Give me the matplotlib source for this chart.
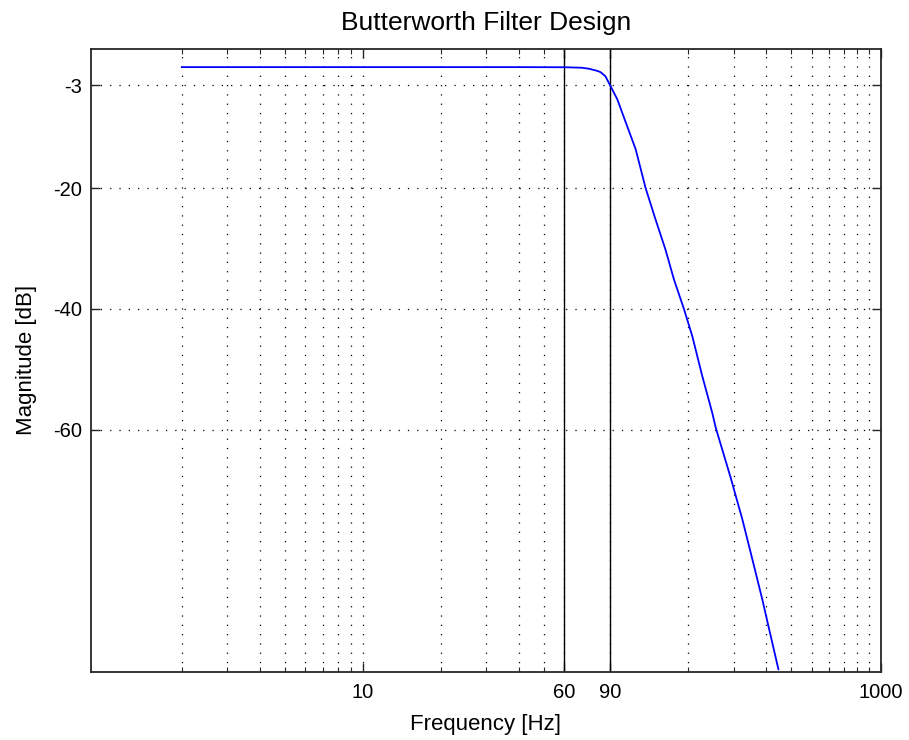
import matplotlib
matplotlib.use("Agg")
import matplotlib.pyplot as plt
from matplotlib.ticker import FixedLocator, NullFormatter

# Magnitude response of the low-pass design (frequency in Hz, magnitude in dB)
freq_hz = [2, 10, 40, 60, 70, 74.5, 80, 82.7, 86.3, 90, 95.9, 104.8, 113,
           123.4, 134.8, 147.3, 158.7, 173.5, 186.9, 204.2, 223.2, 230,
           262.8, 291.6, 318.7, 348.4, 375.2, 401.8]
mag_db = [0.0, 0.0, 0.0, -0.02, -0.1, -0.26, -0.6, -0.83, -1.5, -3.0, -5.3,
          -9.8, -13.6, -20.0, -25.2, -30.2, -35.1, -40.0, -44.5, -51.1, -57.2,
          -59.6, -67.9, -74.8, -81.4, -88.1, -94.1, -99.6]

# Passband edge and cutoff frequency markers
marker_freqs = [60, 90]

x_ticks = [10, 60, 90, 1000]
x_tick_labels = ["10", "60", "90", "1000"]
x_minor = [2, 3, 4, 5, 6, 7, 8, 9, 20, 30, 40, 50,
           180, 270, 360, 450, 540, 630, 720, 810, 900]
y_ticks = [-60, -40, -20, -3]
y_tick_labels = ["-60", "-40", "-20", "-3"]

plt.rcParams["font.family"] = ["Liberation Sans", "DejaVu Sans"]
plt.rcParams["lines.scale_dashes"] = False

fig = plt.figure(figsize=(9.09, 7.40), dpi=100)
ax = fig.add_axes([0.0998, 0.0923, 0.9692 - 0.0998, 0.9338 - 0.0923])

dotted = (0, (0.9, 5.8))
for x in x_minor + x_ticks:
    ax.axvline(x, color="black", lw=0.9, ls=dotted, zorder=1)
for y in y_ticks:
    ax.axhline(y, color="black", lw=0.9, ls=dotted, zorder=1)

for f in marker_freqs:
    ax.axvline(f, color="black", lw=1.0, zorder=2)

ax.plot(freq_hz, mag_db, color="#0000ff", lw=1.3, zorder=3)

ax.set_xscale("log")
ax.set_xlim(0.89, 1000)
ax.set_ylim(-100, 3)

ax.xaxis.set_major_locator(FixedLocator(x_ticks))
ax.set_xticklabels(x_tick_labels)
ax.xaxis.set_minor_locator(FixedLocator(x_minor))
ax.xaxis.set_minor_formatter(NullFormatter())
ax.set_yticks(y_ticks)
ax.set_yticklabels(y_tick_labels)

ax.tick_params(axis="both", which="major", direction="in", length=6.5,
               width=1.0, top=True, right=True, labelsize=14.5,
               color="#262626")
ax.tick_params(axis="x", which="major", pad=8)
ax.tick_params(axis="y", which="major", pad=6)
ax.tick_params(axis="x", which="minor", direction="in", length=3.6,
               width=0.8, top=True, bottom=True, color="#262626")
for side in ax.spines.values():
    side.set_linewidth(1.3)
    side.set_color("#262626")

ax.set_xlabel("Frequency [Hz]", fontsize=16, labelpad=9)
ax.set_ylabel("Magnitude [dB]", fontsize=16, labelpad=12)
ax.set_title("Butterworth Filter Design", fontsize=19, pad=14)

fig.savefig("out.png", dpi=100)
